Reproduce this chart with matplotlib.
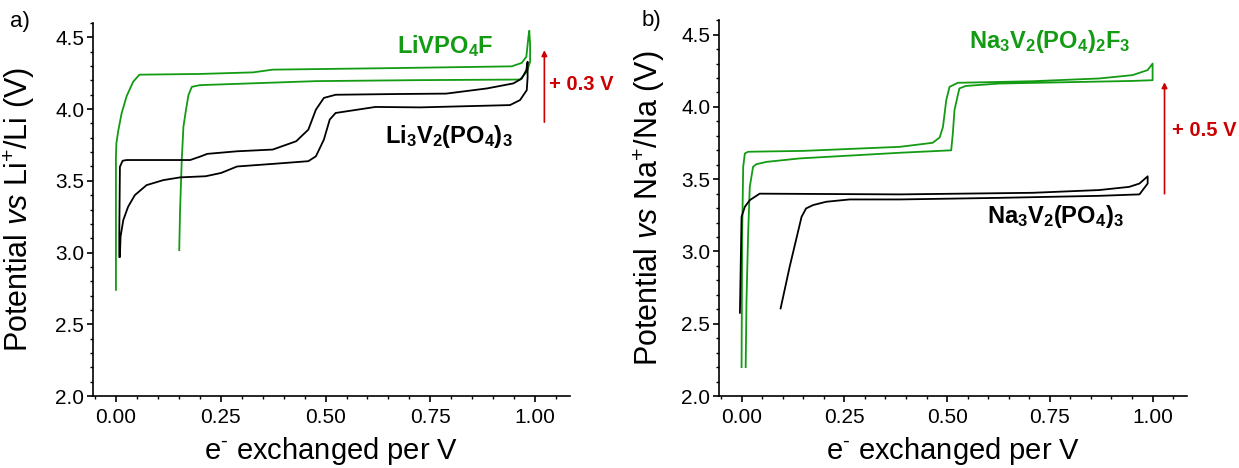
import numpy as np
import matplotlib
matplotlib.use('Agg')
from matplotlib import pyplot as plt
from matplotlib.ticker import MultipleLocator, FormatStrFormatter

plt.rcParams['font.family'] = ['Liberation Sans', 'DejaVu Sans']
plt.rcParams['mathtext.fontset'] = 'custom'
plt.rcParams['mathtext.rm'] = 'Liberation Sans'
plt.rcParams['mathtext.it'] = 'Liberation Sans:italic'
plt.rcParams['mathtext.bf'] = 'Liberation Sans:bold'

GREEN = '#139b13'
RED = '#cc0000'

# ---- panel a: Li cells
lvpf_x = [0.0, 0.0, 0.001, 0.0056, 0.0135, 0.0255, 0.041, 0.056, 0.20, 0.327, 0.374,
          0.666, 0.944, 0.968, 0.979, 0.984, 0.986, 0.988, 0.988, 0.980, 0.964,
          0.726, 0.477, 0.20, 0.181, 0.173, 0.167, 0.161, 0.157, 0.153, 0.151]
lvpf_y = [2.74, 3.67, 3.76, 3.85, 3.97, 4.09, 4.19, 4.24, 4.245, 4.256, 4.275,
          4.286, 4.298, 4.322, 4.365, 4.504, 4.546, 4.45, 4.33, 4.26, 4.206,
          4.202, 4.195, 4.167, 4.155, 4.098, 3.993, 3.877, 3.645, 3.296, 3.017]

lvp_x = [0.008, 0.008, 0.0095, 0.016, 0.0255, 0.177, 0.20, 0.218, 0.289, 0.374, 0.430,
         0.459, 0.477, 0.496, 0.524, 0.666, 0.788, 0.885, 0.948, 0.968, 0.979, 0.982,
         0.982, 0.98, 0.964, 0.940, 0.726, 0.619, 0.524, 0.510, 0.496, 0.477, 0.459,
         0.383, 0.289, 0.251, 0.214, 0.153, 0.113, 0.073, 0.045, 0.029, 0.0175,
         0.011, 0.0095]
lvp_y = [2.971, 3.134, 3.598, 3.64, 3.645, 3.645, 3.668, 3.688, 3.706, 3.718, 3.776,
         3.857, 3.996, 4.078, 4.10, 4.105, 4.108, 4.144, 4.179, 4.213, 4.272, 4.33,
         4.22, 4.132, 4.063, 4.028, 4.012, 4.015, 3.973, 3.927, 3.787, 3.671, 3.637,
         3.62, 3.60, 3.555, 3.532, 3.524, 3.505, 3.47, 3.40, 3.319, 3.226,
         3.11, 2.971]

# ---- panel b: Na cells
nvpf_x = [0.0, 0.0015, 0.004, 0.008, 0.016, 0.15, 0.385, 0.465, 0.482, 0.490, 0.498,
          0.506, 0.526, 0.708, 0.870, 0.951, 0.988, 1.0, 1.0, 0.951, 0.627, 0.545,
          0.530, 0.526, 0.518, 0.514, 0.51, 0.385, 0.142, 0.061, 0.036, 0.028,
          0.02, 0.016, 0.012, 0.010]
nvpf_y = [2.20, 3.125, 3.586, 3.678, 3.69, 3.696, 3.724, 3.752, 3.789, 3.862, 4.047,
          4.139, 4.167, 4.178, 4.197, 4.22, 4.255, 4.30, 4.185, 4.18, 4.162, 4.145,
          4.128, 4.08, 3.978, 3.817, 3.70, 3.683, 3.644, 3.62, 3.604, 3.586,
          3.447, 3.125, 2.66, 2.20]

nvp_x = [-0.004, 0.0, 0.008, 0.02, 0.044, 0.385, 0.708, 0.870, 0.943, 0.968, 0.988,
         0.988, 0.968, 0.870, 0.627, 0.385, 0.263, 0.206, 0.174, 0.157, 0.146,
         0.117, 0.095]
nvp_y = [2.576, 3.24, 3.309, 3.355, 3.40, 3.395, 3.406, 3.425, 3.447, 3.47, 3.52,
         3.47, 3.395, 3.385, 3.371, 3.36, 3.36, 3.344, 3.321, 3.298, 3.24,
         2.894, 2.606]

x_ticks = [0.0, 0.25, 0.5, 0.75, 1.0]
y_ticks = [2.0, 2.5, 3.0, 3.5, 4.0, 4.5]

fig = plt.figure(figsize=(12.39, 4.68), dpi=100)
axa = fig.add_axes([0.0753, 0.1538, 0.3847, 0.797])
axb = fig.add_axes([0.5806, 0.1538, 0.3772, 0.803])

for ax in (axa, axb):
    ax.set_xlim(-0.054, 1.083)
    ax.set_ylim(2.0, 4.6)
    ax.spines['top'].set_visible(False)
    ax.spines['right'].set_visible(False)
    for s in ('left', 'bottom'):
        ax.spines[s].set_linewidth(1.2)
    ax.set_xticks(x_ticks)
    ax.set_yticks(y_ticks)
    ax.xaxis.set_minor_locator(MultipleLocator(0.05))
    ax.yaxis.set_minor_locator(MultipleLocator(0.1))
    ax.xaxis.set_major_formatter(FormatStrFormatter('%.2f'))
    ax.yaxis.set_major_formatter(FormatStrFormatter('%.1f'))
    ax.tick_params(which='major', direction='out', length=4.5, width=1.2, labelsize=15)
    ax.tick_params(which='minor', direction='out', length=2.5, width=1.0)
    ax.tick_params(axis='x', which='major', pad=4)
    ax.tick_params(axis='y', which='major', pad=2)
    ax.set_xlabel(r'e$^{\text{-}}$ exchanged per V', fontsize=21)
    ax.xaxis.set_label_coords(0.5, -0.105)

axa.plot(lvpf_x, lvpf_y, color=GREEN, lw=1.3)
axa.plot(lvp_x, lvp_y, color='black', lw=1.3)
axa.set_ylabel(r'Potential $\it{vs}$ Li$^{+}$/Li (V)', fontsize=22)
axa.yaxis.set_label_coords(-0.119, 0.5)
axa.text(0.67, 4.44, r'$\mathbf{LiVPO_4F}$', color=GREEN, fontsize=17, va='center')
axa.text(0.642, 3.81, r'$\mathbf{Li_3V_2(PO_4)_3}$', color='black', fontsize=17, va='center')
axa.annotate('', xy=(1.022, 4.43), xytext=(1.022, 3.89),
             arrowprops=dict(arrowstyle='-|>', color=RED, lw=1.2, mutation_scale=8))
axa.text(1.034, 4.17, '+ 0.3 V', color=RED, fontsize=14.5, fontweight='bold', va='center')

axb.plot(nvpf_x, nvpf_y, color=GREEN, lw=1.3)
axb.plot(nvp_x, nvp_y, color='black', lw=1.3)
axb.set_ylabel(r'Potential $\it{vs}$ Na$^{+}$/Na (V)', fontsize=22)
axb.yaxis.set_label_coords(-0.113, 0.5)
axb.text(0.553, 4.45, r'$\mathbf{Na_3V_2(PO_4)_2F_3}$', color=GREEN, fontsize=17, va='center')
axb.text(0.596, 3.24, r'$\mathbf{Na_3V_2(PO_4)_3}$', color='black', fontsize=17, va='center')
axb.annotate('', xy=(1.029, 4.19), xytext=(1.029, 3.38),
             arrowprops=dict(arrowstyle='-|>', color=RED, lw=1.2, mutation_scale=8))
axb.text(1.048, 3.84, '+ 0.5 V', color=RED, fontsize=14.5, fontweight='bold', va='center')

fig.text(0.008, 0.953, 'a)', fontsize=16, va='center')
fig.text(0.518, 0.957, 'b)', fontsize=16, va='center')

fig.savefig('out.png', dpi=100)
